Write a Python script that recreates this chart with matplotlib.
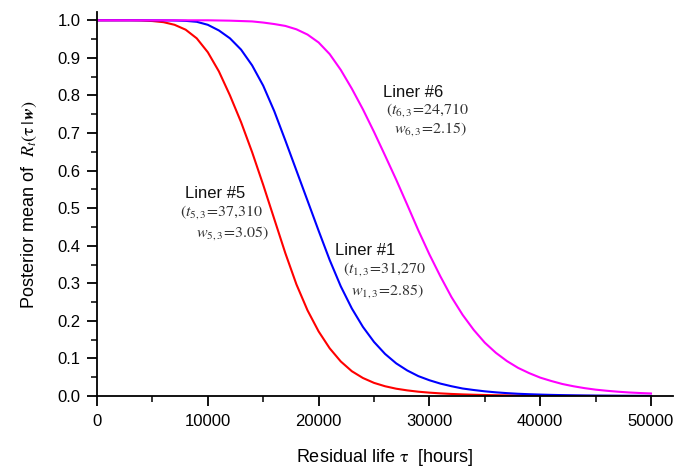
import numpy as np
import matplotlib
matplotlib.use("Agg")
import matplotlib.pyplot as plt
from matplotlib.ticker import MultipleLocator, FormatStrFormatter

plt.rcParams['font.family'] = ['Liberation Sans', 'DejaVu Sans']
plt.rcParams['mathtext.fontset'] = 'stix'

# residual life grid (hours)
tau = [0, 1000, 2000, 3000, 4000, 5000, 6000, 7000, 8000, 9000,
       10000, 11000, 12000, 13000, 14000, 15000, 16000, 17000, 18000, 19000,
       20000, 21000, 22000, 23000, 24000, 25000, 26000, 27000, 28000, 29000,
       30000, 31000, 32000, 33000, 34000, 35000, 36000, 37000, 38000, 39000,
       40000, 41000, 42000, 43000, 44000, 45000, 46000, 47000, 48000, 49000,
       50000]

# Liner #5 (red)
r_liner5 = [1.000, 1.000, 1.000, 1.000, 0.9995, 0.998, 0.995, 0.988, 0.975, 0.952,
            0.915, 0.864, 0.800, 0.729, 0.649, 0.562, 0.471, 0.380, 0.297, 0.228,
            0.172, 0.127, 0.092, 0.066, 0.048, 0.035, 0.026, 0.0195, 0.015, 0.0115,
            0.009, 0.007, 0.0055, 0.0043, 0.0034, 0.0027, 0.0021, 0.0017, 0.0013, 0.001,
            0.0008, 0.0006, 0.0005, 0.0004, 0.0003, 0.0002, 0.0002, 0.0001, 0.0001, 0.0001,
            0.0001]

# Liner #1 (blue)
r_liner1 = [1.000, 1.000, 1.000, 1.000, 1.000, 1.000, 0.9998, 0.9995, 0.9985, 0.996,
            0.988, 0.973, 0.952, 0.922, 0.880, 0.826, 0.758, 0.680, 0.600, 0.520,
            0.440, 0.362, 0.292, 0.233, 0.184, 0.144, 0.112, 0.087, 0.068, 0.053,
            0.042, 0.033, 0.026, 0.020, 0.016, 0.0125, 0.0098, 0.0077, 0.006, 0.0048,
            0.0038, 0.003, 0.0024, 0.0019, 0.0015, 0.0012, 0.001, 0.0008, 0.0006, 0.0005,
            0.0004]

# Liner #6 (magenta)
r_liner6 = [1.000, 1.000, 1.000, 1.000, 1.000, 1.000, 1.000, 1.000, 1.000, 1.000,
            1.000, 0.9995, 0.999, 0.998, 0.997, 0.994, 0.990, 0.985, 0.976, 0.962,
            0.941, 0.910, 0.868, 0.818, 0.763, 0.703, 0.640, 0.576, 0.509, 0.441,
            0.377, 0.318, 0.263, 0.216, 0.176, 0.142, 0.115, 0.093, 0.075, 0.061,
            0.049, 0.040, 0.032, 0.026, 0.021, 0.017, 0.014, 0.0115, 0.0095, 0.008,
            0.0068]

fig = plt.figure(figsize=(6.77, 4.68), dpi=100)
ax = fig.add_axes([0.1433, 0.1538, 0.851, 0.8205])

ax.plot(tau, r_liner5, color='#ff0000', lw=1.5)
ax.plot(tau, r_liner1, color='#0000ff', lw=1.5)
ax.plot(tau, r_liner6, color='#ff00ff', lw=1.5)

ax.set_xlim(0, 52000)
ax.set_ylim(0, 1.022)

ax.spines['top'].set_visible(False)
ax.spines['right'].set_visible(False)
ax.spines['left'].set_linewidth(1.3)
ax.spines['bottom'].set_linewidth(1.3)

ax.xaxis.set_major_locator(MultipleLocator(10000))
ax.xaxis.set_minor_locator(MultipleLocator(5000))
ax.yaxis.set_major_locator(MultipleLocator(0.1))
ax.yaxis.set_minor_locator(MultipleLocator(0.05))
ax.yaxis.set_major_formatter(FormatStrFormatter('%.1f'))

ax.tick_params(which='major', direction='out', length=7, width=1.3, labelsize=12)
ax.tick_params(axis='x', which='major', pad=6)
ax.tick_params(axis='y', which='major', pad=5)
ax.tick_params(which='minor', direction='out', length=4, width=1.1)

ax.set_xlabel(r'Residual life $\mathrm{\tau}$  [hours]', fontsize=13, labelpad=13)
ax.set_ylabel(r'Posterior mean of  $R_t(\mathrm{\tau}\,|\,\mathbfit{w})$', fontsize=13, labelpad=13)

# curve labels
lab_kw = dict(fontsize=12, ha='left', va='center', color='#111111')
par_kw = dict(fontsize=11.5, ha='left', va='center', color='#333333')

ax.text(7940, 0.54, 'Liner #5', **lab_kw)
ax.text(7490, 0.49, r'$(t_{5,3}\!=\!37{,}310$', **par_kw)
ax.text(8935, 0.433, r'$w_{5,3}\!=\!3.05)$', **par_kw)

ax.text(21480, 0.386, 'Liner #1', **lab_kw)
ax.text(22170, 0.337, r'$(t_{1,3}\!=\!31{,}270$', **par_kw)
ax.text(22900, 0.279, r'$w_{1,3}\!=\!2.85)$', **par_kw)

ax.text(25840, 0.809, 'Liner #6', **lab_kw)
ax.text(26080, 0.761, r'$(t_{6,3}\!=\!24{,}710$', **par_kw)
ax.text(26800, 0.71, r'$w_{6,3}\!=\!2.15)$', **par_kw)

fig.savefig('out.png', dpi=100)
